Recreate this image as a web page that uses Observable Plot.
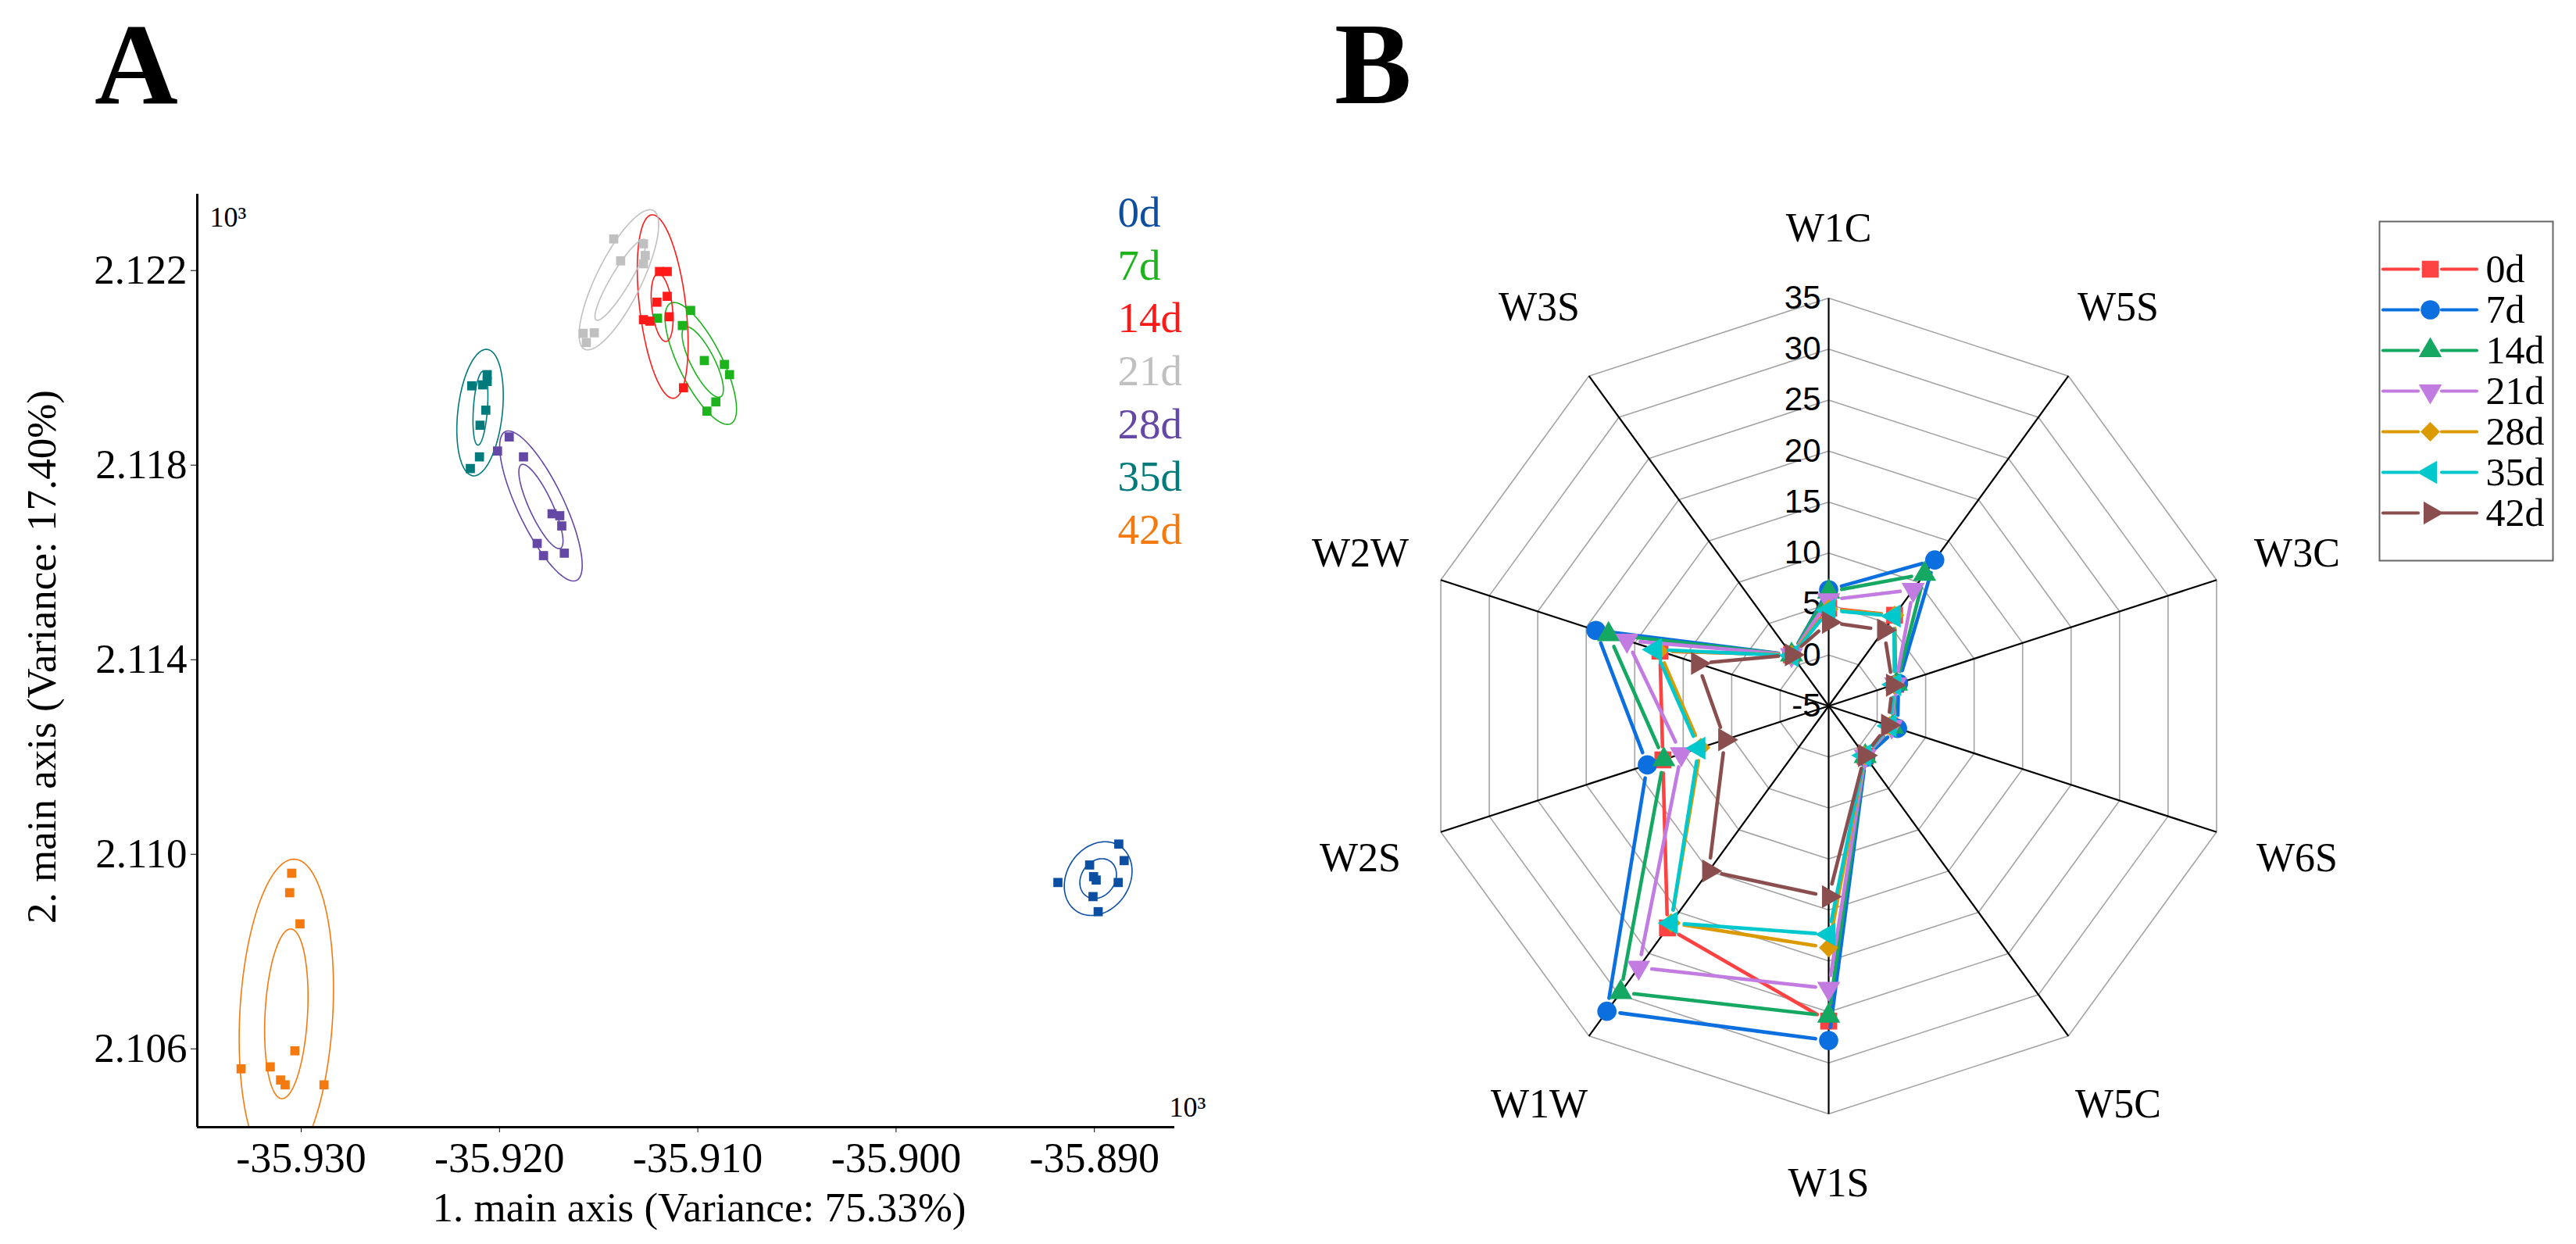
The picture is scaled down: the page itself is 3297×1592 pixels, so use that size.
<!DOCTYPE html>
<html><head><meta charset="utf-8">
<script src="https://cdn.jsdelivr.net/npm/d3@7"></script>
<script src="https://cdn.jsdelivr.net/npm/@observablehq/plot@0.6"></script>
<style>
html,body{margin:0;padding:0;background:#fff;}
body{width:3297px;height:1592px;position:relative;overflow:hidden;}
.panel{position:absolute;}
.panel svg{max-width:none !important;}
</style></head><body>
<div id="letters" class="panel" style="left:0;top:0"></div>
<div id="pA" class="panel" style="left:0;top:0"></div>
<div id="pB" class="panel" style="left:1640px;top:203px"></div>
<div id="legB" class="panel" style="left:3045px;top:283px"></div>
<script>
// ---------------- DATA: panel A (PCA) ----------------
const pcaGroups = ["0d","7d","14d","21d","28d","35d","42d"];
const pcaColors = ["#0b4ea2","#1db31d","#ff1a1a","#c0c0c0","#6548a6","#007a7a","#f47a10"];
const pcaXTicks = [-35.930,-35.920,-35.910,-35.900,-35.890];
const pcaYTicks = [2.106,2.110,2.114,2.118,2.122];
const pcaXDomain = [-35.93524,-35.88595];
const pcaYDomain = [2.10439,2.12357];
const pcaXLabel = "1. main axis (Variance: 75.33%)";
const pcaYLabel = "2. main axis (Variance: 17.40%)";

const pca0d = [[-35.88877,2.11021],[-35.88850,2.10987],[-35.89024,2.10978],[-35.89004,2.10954],[-35.88991,2.10947],[-35.89184,2.10942],[-35.88880,2.10942],[-35.89007,2.10913],[-35.88981,2.10882]];
const pca7d = [[-35.91036,2.12118],[-35.91203,2.12102],[-35.91078,2.12087],[-35.90967,2.12015],[-35.90866,2.12007],[-35.90840,2.11986],[-35.90909,2.11930],[-35.90954,2.11911]];
const pca14d = [[-35.91193,2.12198],[-35.91154,2.12198],[-35.91154,2.12147],[-35.91206,2.12135],[-35.91144,2.12105],[-35.91274,2.12099],[-35.91242,2.12096],[-35.91072,2.11959]];
const pca21d = [[-35.91424,2.12265],[-35.91389,2.12220],[-35.91274,2.12255],[-35.91265,2.12231],[-35.91274,2.12214],[-35.91578,2.12071],[-35.91522,2.12072],[-35.91562,2.12052]];
const pca28d = [[-35.91951,2.11858],[-35.92010,2.11829],[-35.91879,2.11817],[-35.91735,2.11700],[-35.91696,2.11696],[-35.91686,2.11675],[-35.91810,2.11639],[-35.91778,2.11614],[-35.91673,2.11619]];
const pca35d = [[-35.92140,2.11963],[-35.92085,2.11965],[-35.92062,2.11986],[-35.92062,2.11972],[-35.92069,2.11913],[-35.92098,2.11882],[-35.92101,2.11817],[-35.92147,2.11793]];
const pca42d = [[-35.93048,2.10961],[-35.93058,2.10921],[-35.93006,2.10857],[-35.93032,2.10596],[-35.93303,2.10559],[-35.93156,2.10563],[-35.93104,2.10536],[-35.93081,2.10526],[-35.92885,2.10526]];
const pcaPointSets = [pca0d,pca7d,pca14d,pca21d,pca28d,pca35d,pca42d];

// confidence ellipses: group, level, centre x, centre y, major semi-axis vector (dx, dy, data units), minor/major ratio
const pcaEllipses = [
  ["0d","outer",-35.88981,2.10950,0.00110,0.000667,0.80],
  ["0d","inner",-35.88981,2.10950,0.000595,0.00036,0.80],
  ["7d","outer",-35.90985,2.12009,-0.00152,0.001237,0.32],
  ["7d","inner",-35.90975,2.12012,-0.000898,0.000716,0.30],
  ["14d","outer",-35.91177,2.12126,-0.000556,0.001885,0.25],
  ["14d","inner",-35.91180,2.12124,-0.000205,0.000697,0.30],
  ["21d","outer",-35.91398,2.12181,0.00173,0.001426,0.29],
  ["21d","inner",-35.91390,2.12181,0.00122,0.000827,0.20],
  ["28d","outer",-35.91791,2.11716,-0.001797,0.001529,0.28],
  ["28d","inner",-35.91791,2.11715,-0.000981,0.000861,0.25],
  ["35d","outer",-35.92098,2.11908,0.000359,0.001299,0.35],
  ["35d","inner",-35.92096,2.11917,0.00013,0.000758,0.19],
  ["42d","outer",-35.93075,2.10672,0.000426,0.00318,0.30],
  ["42d","inner",-35.93075,2.10672,0.000232,0.001744,0.25]
];

// ---------------- DATA: panel B (radar) ----------------
const radarAxes = ["W1C","W5S","W3C","W6S","W5C","W1S","W1W","W2S","W2W","W3S"];
const radarTicks = [-5,0,5,10,15,20,25,30,35];
const radarSeries = ["0d","7d","14d","21d","28d","35d","42d"];
const radarColors = ["#ff4242","#0b6fe0","#14a862","#c27be0","#db9a00","#00c8cc","#8b4e4e"];
const r0d  = [4.6, 6.0, 1.9, 1.3, 1.1, 25.9, 21.9, 12.1, 12.4, 1.2];
const r7d  = [6.4, 12.7, 2.2, 2.1, 1.2, 27.8, 32.0, 13.7, 19.0, 1.2];
const r14d = [6.2, 11.0, 2.0, 1.6, 1.1, 25.4, 29.7, 12.0, 17.7, 1.2];
const r21d = [5.4, 9.1, 1.9, 1.5, 1.1, 22.7, 26.7, 10.2, 15.8, 1.2];
const r28d = [4.5, 6.0, 1.8, 1.3, 1.0, 18.7, 21.3, 8.2, 12.5, 1.2];
const r35d = [4.4, 5.9, 1.8, 1.3, 1.0, 17.4, 21.3, 8.4, 12.9, 1.1];
const r42d = [3.2, 4.2, 1.6, 1.1, 1.0, 13.7, 15.0, 5.7, 8.5, 1.2];
const radarValues = [r0d,r7d,r14d,r21d,r28d,r35d,r42d];

// ---------------- panel letters ----------------
const serif = "'Liberation Serif', 'Times New Roman', serif";
const sans = "'Liberation Sans', Arial, sans-serif";
{
  const svg = d3.create("svg").attr("width", 1900).attr("height", 170);
  svg.append("text").attr("x", 121).attr("y", 132).attr("font-family", serif).attr("font-weight", "bold").attr("font-size", 148).text("A");
  svg.append("text").attr("x", 1708).attr("y", 132).attr("font-family", serif).attr("font-weight", "bold").attr("font-size", 148).text("B");
  document.getElementById("letters").append(svg.node());
}

// ---------------- panel A ----------------
{
  const W = 1600, H = 1592, mL = 252, mT = 248, mR = 97, mB = 150;
  const kx = (W - mL - mR) / (pcaXDomain[1] - pcaXDomain[0]);
  const ky = (H - mT - mB) / (pcaYDomain[1] - pcaYDomain[0]);
  const points = pcaPointSets.flatMap((s, g) => s.map(([x, y]) => ({x, y, group: pcaGroups[g]})));
  const ellipsePts = pcaEllipses.flatMap(([group, level, cx, cy, mx, my, ratio]) => {
    const Mx = mx * kx, My = -my * ky;          // major semi-axis in screen units
    const nx = -My * ratio, ny = Mx * ratio;     // perpendicular minor semi-axis
    return d3.range(0, 121).map(k => {
      const t = 2 * Math.PI * k / 120;
      const sx = Mx * Math.cos(t) + nx * Math.sin(t);
      const sy = My * Math.cos(t) + ny * Math.sin(t);
      return {x: cx + sx / kx, y: cy - sy / ky, group, key: group + level};
    });
  });
  const marks = [
    Plot.line(ellipsePts, {x: "x", y: "y", z: "key", stroke: "group", strokeWidth: 1.6, clip: true}),
    Plot.dot(points, {x: "x", y: "y", fill: "group", symbol: "square", r: 6.6}),
    Plot.ruleX([pcaXDomain[0]], {stroke: "#000", strokeWidth: 3}),
    Plot.ruleY([pcaYDomain[0]], {stroke: "#000", strokeWidth: 3}),
    Plot.axisX({ticks: pcaXTicks, tickFormat: d => d.toFixed(3), tickSize: 7, tickPadding: 12, label: null, fontSize: 54}),
    Plot.axisY({ticks: pcaYTicks, tickFormat: d => d.toFixed(3), tickSize: 8, tickPadding: 5, label: null, fontSize: 53}),
    Plot.text([pcaXLabel], {frameAnchor: "bottom", lineAnchor: "middle", textAnchor: "middle", dx: 17, dy: 104, fontSize: 53, fontFamily: serif}),
    Plot.text([pcaYLabel], {frameAnchor: "left", lineAnchor: "middle", textAnchor: "middle", rotate: -90, dx: -198, dy: -5, fontSize: 53, fontFamily: serif}),
    Plot.text(["10³"], {frameAnchor: "top-left", textAnchor: "start", lineAnchor: "top", dx: 16, dy: 16, fontSize: 36, fontFamily: serif}),
    Plot.text(["10³"], {frameAnchor: "bottom-right", textAnchor: "start", lineAnchor: "bottom", dx: -7, dy: -14, fontSize: 36, fontFamily: serif}),
    ...pcaGroups.map((g, i) => Plot.text([g], {frameAnchor: "top-left", textAnchor: "start", lineAnchor: "middle", dx: 1178, dy: 24 + i * 67.6, fontSize: 55, fontFamily: serif, fill: pcaColors[i]}))
  ];
  const plot = Plot.plot({
    width: W, height: H, marginLeft: mL, marginTop: mT, marginRight: mR, marginBottom: mB,
    x: {domain: pcaXDomain}, y: {domain: pcaYDomain},
    color: {domain: pcaGroups, range: pcaColors},
    style: {fontFamily: serif, fontSize: "53px", background: "transparent", overflow: "visible"},
    marks
  });
  document.getElementById("pA").append(plot);
}

// ---------------- symbols ----------------
function triSymbol(rotDeg) {
  const a = rotDeg * Math.PI / 180;
  return {draw(ctx, size) {
    const y = -Math.sqrt(size / (Math.sqrt(3) * 3));
    const pts = [[0, y * 2], [-Math.sqrt(3) * y, -y], [Math.sqrt(3) * y, -y]];
    pts.forEach(([px, py], k) => {
      const rx = px * Math.cos(a) - py * Math.sin(a), ry = px * Math.sin(a) + py * Math.cos(a);
      k ? ctx.lineTo(rx, ry) : ctx.moveTo(rx, ry);
    });
    ctx.closePath();
  }};
}
const seriesSymbols = ["square", "circle", "triangle", triSymbol(180), "diamond2", triSymbol(-90), triSymbol(90)];
const seriesSizes = [12.2, 12.3, 11, 11, 11.2, 11, 11];

// ---------------- panel B (radar) ----------------
{
  const S = 1400, K = 53.64;
  const n = radarAxes.length;
  const ang = i => 2 * Math.PI * i / n;
  const rad = v => v - radarTicks[0];
  const px = (i, v) => rad(v) * Math.sin(ang(i));
  const py = (i, v) => rad(v) * Math.cos(ang(i));
  const vmax = radarTicks[radarTicks.length - 1];
  const rings = radarTicks.slice(1).flatMap(v => radarAxes.map((a, i) => ({v, x: px(i, v), y: py(i, v)})));
  const spokes = radarAxes.map((a, i) => ({x2: px(i, vmax), y2: py(i, vmax)}));
  const gap = 1.3;
  function segs(vals) {
    const out = [];
    for (let i = 0; i < n; i++) {
      const j = (i + 1) % n;
      const x1 = px(i, vals[i]), y1 = py(i, vals[i]), x2 = px(j, vals[j]), y2 = py(j, vals[j]);
      const L = Math.hypot(x2 - x1, y2 - y1);
      if (L <= 2 * gap + 0.2) continue;
      const ux = (x2 - x1) / L, uy = (y2 - y1) / L;
      out.push({x1: x1 + ux * gap, y1: y1 + uy * gap, x2: x2 - ux * gap, y2: y2 - uy * gap});
    }
    return out;
  }
  const labR = i => Math.abs(Math.cos(ang(i))) > 0.99 ? 46.8 : 48.3;
  const marks = [
    Plot.line(rings, {x: "x", y: "y", z: "v", curve: "linear-closed", stroke: "#a3a3a3", strokeWidth: 1.6}),
    Plot.link(spokes, {x1: 0, y1: 0, x2: "x2", y2: "y2", stroke: "#000", strokeWidth: 2.2}),
    Plot.text(radarTicks, {x: 0, y: d => rad(d), text: d => String(d), textAnchor: "end", dx: -10, fontFamily: sans, fontSize: 42}),
  ];
  radarValues.forEach((vals, s) => {
    marks.push(Plot.link(segs(vals), {x1: "x1", y1: "y1", x2: "x2", y2: "y2", stroke: radarColors[s], strokeWidth: 4.6, strokeLinecap: "round"}));
    marks.push(Plot.dot(vals.map((v, i) => ({x: px(i, v), y: py(i, v)})), {x: "x", y: "y", fill: radarColors[s], symbol: seriesSymbols[s], r: seriesSizes[s]}));
  });
  marks.push(Plot.text(radarAxes, {x: (d, i) => labR(i) * Math.sin(ang(i)), y: (d, i) => labR(i) * Math.cos(ang(i)), fontFamily: serif, fontSize: 52}));
  const plot = Plot.plot({
    width: S, height: S, margin: 0,
    x: {domain: [-K, K], axis: null}, y: {domain: [-K, K], axis: null},
    style: {fontFamily: serif, fontSize: "52px", background: "transparent", overflow: "visible"},
    marks
  });
  document.getElementById("pB").append(plot);
}

// ---------------- legend B ----------------
{
  const W = 222, H = 434;
  const marks = [
    Plot.frame({stroke: "#666", strokeWidth: 2})
  ];
  radarSeries.forEach((name, s) => {
    marks.push(Plot.ruleY([name], {x1: 5, x2: 50, stroke: radarColors[s], strokeWidth: 4.2, strokeLinecap: "round"}));
    marks.push(Plot.ruleY([name], {x1: 80, x2: 125, stroke: radarColors[s], strokeWidth: 4.2, strokeLinecap: "round"}));
    marks.push(Plot.dot([name], {x: 65, y: d => d, fill: radarColors[s], symbol: seriesSymbols[s], r: seriesSizes[s]}));
    marks.push(Plot.text([name], {x: 136, y: d => d, textAnchor: "start", fontFamily: serif, fontSize: 50}));
  });
  const plot = Plot.plot({
    width: W, height: H, margin: 0,
    x: {domain: [0, W], range: [0, W], axis: null},
    y: {type: "point", domain: radarSeries, range: [33.7, 400.3], axis: null},
    style: {fontFamily: serif, fontSize: "50px", background: "transparent", overflow: "visible"},
    marks
  });
  document.getElementById("legB").append(plot);
}
</script>
</body></html>
